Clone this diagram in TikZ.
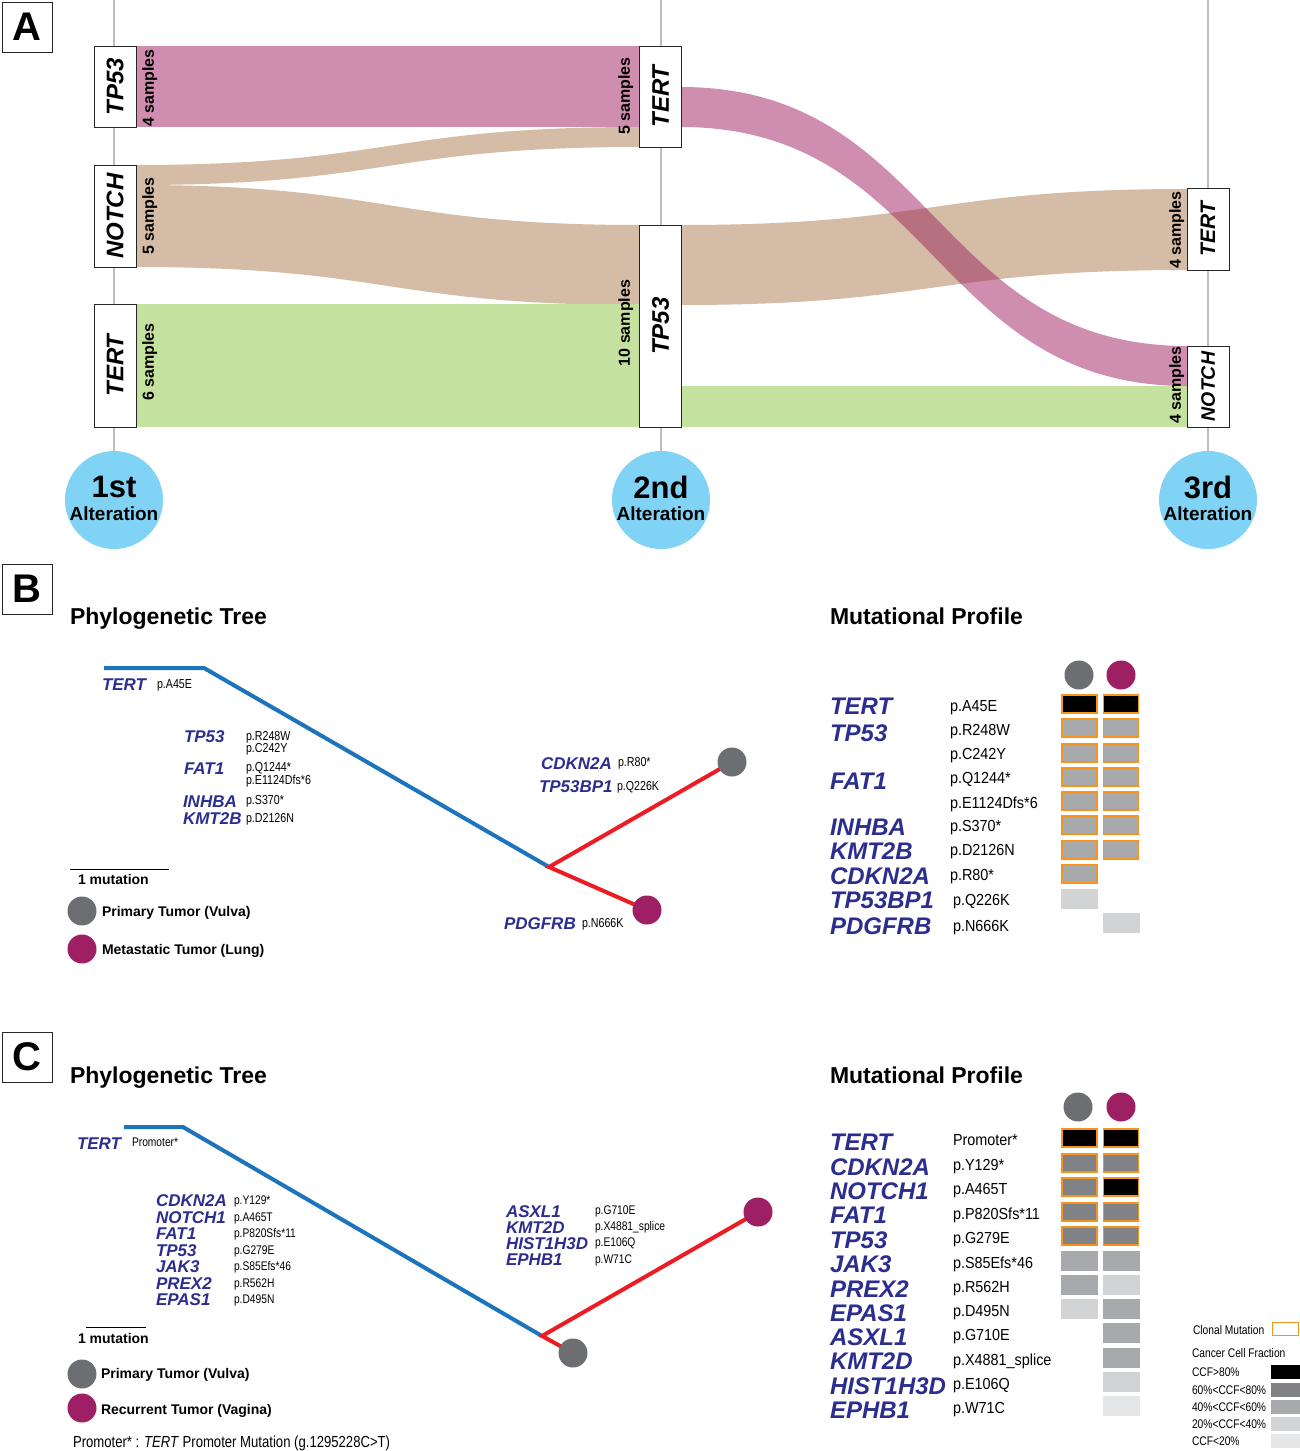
\documentclass[tikz,border=0pt]{standalone}
\usepackage{fontspec}
\setmainfont{Liberation Sans}
\newfontfamily\narrowfont[FakeStretch=0.82]{Liberation Sans}
\newfontfamily\medfont[FakeStretch=0.9]{Liberation Sans}
\definecolor{gblue}{RGB}{43,46,142}
\definecolor{tblue}{RGB}{28,117,188}
\definecolor{tred}{RGB}{237,28,36}
\definecolor{cgrey}{RGB}{109,110,113}
\definecolor{cpurple}{RGB}{158,31,99}
\definecolor{orng}{RGB}{247,148,29}
\definecolor{ccfa}{RGB}{0,0,0}
\definecolor{ccfb}{RGB}{128,130,133}
\definecolor{ccfc}{RGB}{167,169,172}
\definecolor{ccfd}{RGB}{209,211,212}
\definecolor{ccfe}{RGB}{230,231,232}
\definecolor{skyb}{RGB}{129,211,245}
\definecolor{axisg}{RGB}{190,190,190}
\definecolor{fpink}{RGB}{207,141,176}
\definecolor{fover}{RGB}{182,112,128}
\definecolor{ftan}{RGB}{212,188,166}
\definecolor{fgreen}{RGB}{197,225,160}
\tikzset{
  every node/.style={inner sep=0pt,outer sep=0pt,text depth=0pt},
  axisline/.style={draw=axisg,line width=1.5pt},
  altcirc/.style={circle,fill=skyb,minimum size=98pt},
  altbig/.style={font=\bfseries\fontsize{31}{31}\selectfont},
  altsmall/.style={font=\bfseries\fontsize{19}{19}\selectfont},
  sbox/.style={draw=black!85,fill=white,line width=1pt,rotate=90,minimum height=42pt,
    font=\bfseries\itshape\fontsize{24}{24}\selectfont},
  sboxs/.style={sbox,font=\bfseries\itshape\fontsize{21}{21}\selectfont},
  slab/.style={rotate=90,font=\bfseries\fontsize{16}{16}\selectfont},
  pink/.style={fill=fpink},
  tan/.style={fill=ftan},
  green/.style={fill=fgreen},
  letterbox/.style={draw=black!85,line width=1pt,minimum size=50pt,font=\bfseries\fontsize{40}{40}\selectfont},
  ttl/.style={font=\bfseries\fontsize{23}{23}\selectfont,text height=16.5pt,anchor=west},
  gtree/.style={font=\bfseries\itshape\fontsize{17}{17}\selectfont,text=gblue,text height=12.2pt,anchor=west},
  gprof/.style={font=\bfseries\itshape\fontsize{24}{24}\selectfont,text=gblue,text height=17.2pt,anchor=west},
  mtree/.style={font=\narrowfont\fontsize{13}{13}\selectfont,text height=9.3pt,anchor=west},
  mtreec/.style={font=\narrowfont\fontsize{12.5}{12.5}\selectfont,text height=9pt,anchor=west},
  mprof/.style={font=\medfont\fontsize{16}{16}\selectfont,text height=11.5pt,anchor=west},
  leg/.style={font=\bfseries\fontsize{14}{14}\selectfont,text height=10pt,anchor=west},
  rleg/.style={font=\narrowfont\fontsize{12.5}{12.5}\selectfont,text height=9pt,anchor=west},
  note/.style={font=\narrowfont\fontsize{16}{16}\selectfont,text height=11.5pt,anchor=west},
  tbl/.style={draw=tblue,line width=4pt,line join=round},
  trd/.style={draw=tred,line width=4pt,line join=miter},
  dot/.style={circle,minimum size=29pt},
  cellc/.style={minimum width=35pt,minimum height=18pt,draw=orng,line width=1.8pt,fill=#1},
  celln/.style={minimum width=37pt,minimum height=20pt,fill=#1},
  legrect/.style={minimum width=29pt,minimum height=14pt,fill=#1},
}
\begin{document}
\begin{tikzpicture}[x=1pt,y=-1pt]
\useasboundingbox (0,0) rectangle (1300,1451);
\fill[white] (0,0) rectangle (1300,1451);

% ================= Panel A =================
\node[letterbox] (pA) at (27,27) {A};
\node[altcirc] (alt1) at (114,500) {};
\node[altcirc] (alt2) at (661,500) {};
\node[altcirc] (alt3) at (1208,500) {};
\coordinate (top1) at (114,0);
\coordinate (top2) at (661,0);
\coordinate (top3) at (1208,0);
\draw[axisline] (top1) -- (alt1.north);
\draw[axisline] (top2) -- (alt2.north);
\draw[axisline] (top3) -- (alt3.north);

% flows
\fill[tan] (136,165) .. controls (388,165) and (388,127) .. (640,127) -- (640,147) .. controls (388,147) and (388,185) .. (136,185) -- cycle;
\fill[tan] (136,185) .. controls (388,185) and (388,225) .. (640,225) -- (640,305) .. controls (388,305) and (388,267) .. (136,267) -- cycle;
\fill[green] (136,304) rectangle (640,427);
\fill[tan] (681,225) .. controls (934,225) and (934,189) .. (1187,189) -- (1187,270) .. controls (934,270) and (934,305) .. (681,305) -- cycle;
\fill[green] (681,386) rectangle (1187,427);
\fill[pink] (136,46) rectangle (640,127);
\fill[pink] (681,87) .. controls (934,87) and (934,346) .. (1187,346) -- (1187,386) .. controls (934,386) and (934,127) .. (681,127) -- cycle;
\begin{scope}
\clip (681,225) .. controls (934,225) and (934,189) .. (1187,189) -- (1187,270) .. controls (934,270) and (934,305) .. (681,305) -- cycle;
\fill[fover] (681,87) .. controls (934,87) and (934,346) .. (1187,346) -- (1187,386) .. controls (934,386) and (934,127) .. (681,127) -- cycle;
\end{scope}

% boxes column 1
\node[sbox,minimum width=81pt] (c1tp53) at (115,86.5) {TP53};
\node[sbox,minimum width=102pt] (c1notch) at (115,216) {NOTCH};
\node[sbox,minimum width=123pt] (c1tert) at (115,365.5) {TERT};
% column 2
\node[sbox,minimum width=101pt] (c2tert) at (660.5,96.5) {TERT};
\node[sbox,minimum width=202pt] (c2tp53) at (660.5,326) {TP53};
% column 3
\node[sboxs,minimum width=82pt] (c3tert) at (1208,229) {TERT};
\node[sboxs,minimum width=81pt,font=\bfseries\itshape\fontsize{19.5}{19.5}\selectfont] (c3notch) at (1208,386.5) {NOTCH};

% sample labels
\node[slab] (s1a) at (148,88) {4 samples};
\node[slab] (s1b) at (148,216) {5 samples};
\node[slab] (s1c) at (148,362) {6 samples};
\node[slab] (s2a) at (624,96) {5 samples};
\node[slab] (s2b) at (624,323) {10 samples};
\node[slab] (s3a) at (1175,230) {4 samples};
\node[slab] (s3b) at (1175,385) {4 samples};

% circle labels
\node[altbig] (a1t) at (114,487) {1st};
\node[altsmall] (a1b) at (114,514) {Alteration};
\node[altbig] (a2t) at (661,487) {2nd};
\node[altsmall] (a2b) at (661,514) {Alteration};
\node[altbig] (a3t) at (1208,487) {3rd};
\node[altsmall] (a3b) at (1208,514) {Alteration};

% ================= Panel B =================
\node[letterbox] (pB) at (27,589) {B};
\node[ttl] (bT1) at (70,616) {Phylogenetic Tree};
\node[ttl] (bT2) at (830,616) {Mutational Profile};

\coordinate (bS) at (104,668);
\coordinate (bK) at (204,668);
\coordinate (bJ) at (549,867);
\coordinate (bP) at (732,762);
\coordinate (bM) at (647,910);
\draw[tbl] (bS) -- (bK) -- (bJ);
\draw[trd] (bP) -- (bJ) -- (bM);
\node[dot,fill=cgrey] (bPd) at (bP) {};
\node[dot,fill=cpurple] (bMd) at (bM) {};

\node[gtree] (bg1) at (102,684) {TERT};
\node[mtree] (bm1) at (157,684) {p.A45E};
\node[gtree] (bg2) at (184,736) {TP53};
\node[mtree] (bm2) at (246,736) {p.R248W};
\node[mtree] (bm3) at (246,748) {p.C242Y};
\node[gtree] (bg3) at (184,768) {FAT1};
\node[mtree] (bm4) at (246,767) {p.Q1244*};
\node[mtree] (bm5) at (246,780) {p.E1124Dfs*6};
\node[gtree] (bg4) at (183,801) {INHBA};
\node[mtree] (bm6) at (246,800) {p.S370*};
\node[gtree] (bg5) at (183,818) {KMT2B};
\node[mtree] (bm7) at (246,818) {p.D2126N};
\node[gtree] (bg6) at (541,763) {CDKN2A};
\node[mtree] (bm8) at (618,762) {p.R80*};
\node[gtree] (bg7) at (539,786) {TP53BP1};
\node[mtree] (bm9) at (617,786) {p.Q226K};
\node[gtree] (bg8) at (504,923) {PDGFRB};
\node[mtree] (bm10) at (582,923) {p.N666K};

% legend B
\coordinate (bL1) at (70,869);
\coordinate (bL2) at (169,869);
\draw[line width=0.8pt] (bL1) -- (bL2);
\node[leg] (bl1) at (78,879) {1 mutation};
\node[dot,fill=cgrey] (bld1) at (82,911) {};
\node[leg] (bl2) at (102,911) {Primary Tumor (Vulva)};
\node[dot,fill=cpurple] (bld2) at (82,949) {};
\node[leg] (bl3) at (102,949) {Metastatic Tumor (Lung)};

% profile B
\node[dot,fill=cgrey] (bpc1) at (1079,675) {};
\node[dot,fill=cpurple] (bpc2) at (1121,675) {};
\node[gprof] (bpg1) at (830,706) {TERT};
\node[gprof] (bpg2) at (830,733) {TP53};
\node[gprof] (bpg3) at (830,781) {FAT1};
\node[gprof] (bpg4) at (830,827) {INHBA};
\node[gprof] (bpg5) at (830,851) {KMT2B};
\node[gprof] (bpg6) at (830,876) {CDKN2A};
\node[gprof] (bpg7) at (830,900) {TP53BP1};
\node[gprof] (bpg8) at (830,926) {PDGFRB};
\node[mprof] (bpm1) at (950,706) {p.A45E};
\node[mprof] (bpm2) at (950,730) {p.R248W};
\node[mprof] (bpm3) at (950,754) {p.C242Y};
\node[mprof] (bpm4) at (950,778) {p.Q1244*};
\node[mprof] (bpm5) at (950,803) {p.E1124Dfs*6};
\node[mprof] (bpm6) at (950,826) {p.S370*};
\node[mprof] (bpm7) at (950,850) {p.D2126N};
\node[mprof] (bpm8) at (950,875) {p.R80*};
\node[mprof] (bpm9) at (953,900) {p.Q226K};
\node[mprof] (bpm10) at (953,926) {p.N666K};

\node[cellc=ccfa] (bc1a) at (1079.5,704) {};
\node[cellc=ccfa] (bc1b) at (1121,704) {};
\node[cellc=ccfc] (bc2a) at (1079.5,728) {};
\node[cellc=ccfc] (bc2b) at (1121,728) {};
\node[cellc=ccfc] (bc3a) at (1079.5,753) {};
\node[cellc=ccfc] (bc3b) at (1121,753) {};
\node[cellc=ccfc] (bc4a) at (1079.5,777) {};
\node[cellc=ccfc] (bc4b) at (1121,777) {};
\node[cellc=ccfc] (bc5a) at (1079.5,801) {};
\node[cellc=ccfc] (bc5b) at (1121,801) {};
\node[cellc=ccfc] (bc6a) at (1079.5,825) {};
\node[cellc=ccfc] (bc6b) at (1121,825) {};
\node[cellc=ccfc] (bc7a) at (1079.5,850) {};
\node[cellc=ccfc] (bc7b) at (1121,850) {};
\node[cellc=ccfc] (bc8a) at (1079.5,874) {};
\node[celln=ccfd] (bc9a) at (1079.5,898.5) {};
\node[celln=ccfd] (bc10b) at (1121,923) {};

% ================= Panel C =================
\node[letterbox] (pC) at (27,1057) {C};
\node[ttl] (cT1) at (70,1075) {Phylogenetic Tree};
\node[ttl] (cT2) at (830,1075) {Mutational Profile};

\coordinate (cS) at (124,1127);
\coordinate (cK) at (183,1127);
\coordinate (cJ) at (542,1336);
\coordinate (cP) at (573,1353);
\coordinate (cM) at (758,1212);
\draw[tbl] (cS) -- (cK) -- (cJ);
\draw[trd] (cM) -- (cJ) -- (cP);
\node[dot,fill=cgrey] (cPd) at (cP) {};
\node[dot,fill=cpurple] (cMd) at (cM) {};

\node[gtree] (cg1) at (77,1143) {TERT};
\node[mtreec] (cm1) at (132,1142) {Promoter*};
\node[gtree] (cg2) at (156,1200) {CDKN2A};
\node[gtree] (cg3) at (156,1217) {NOTCH1};
\node[gtree] (cg4) at (156,1233) {FAT1};
\node[gtree] (cg5) at (156,1250) {TP53};
\node[gtree] (cg6) at (156,1266) {JAK3};
\node[gtree] (cg7) at (156,1283) {PREX2};
\node[gtree] (cg8) at (156,1299) {EPAS1};
\node[mtreec] (cm2) at (234,1200) {p.Y129*};
\node[mtreec] (cm3) at (234,1217) {p.A465T};
\node[mtreec] (cm4) at (234,1233) {p.P820Sfs*11};
\node[mtreec] (cm5) at (234,1250) {p.G279E};
\node[mtreec] (cm6) at (234,1266) {p.S85Efs*46};
\node[mtreec] (cm7) at (234,1283) {p.R562H};
\node[mtreec] (cm8) at (234,1299) {p.D495N};
\node[gtree] (cg9) at (506,1211) {ASXL1};
\node[gtree] (cg10) at (506,1227) {KMT2D};
\node[gtree] (cg11) at (506,1243) {HIST1H3D};
\node[gtree] (cg12) at (506,1259) {EPHB1};
\node[mtreec] (cm9) at (595,1210) {p.G710E};
\node[mtreec] (cm10) at (595,1226) {p.X4881\_splice};
\node[mtreec] (cm11) at (595,1242) {p.E106Q};
\node[mtreec] (cm12) at (595,1259) {p.W71C};

% legend C
\coordinate (cL1) at (86,1327);
\coordinate (cL2) at (146,1327);
\draw[line width=0.8pt] (cL1) -- (cL2);
\node[leg] (cl1) at (78,1338) {1 mutation};
\node[dot,fill=cgrey] (cld1) at (82,1374) {};
\node[leg] (cl2) at (101,1373) {Primary Tumor (Vulva)};
\node[dot,fill=cpurple] (cld2) at (82,1408) {};
\node[leg] (cl3) at (101,1409) {Recurrent Tumor (Vagina)};
\node[note] (cnote) at (73,1442) {Promoter* : \textit{TERT} Promoter Mutation (g.1295228C>T)};

% profile C
\node[dot,fill=cgrey] (cpc1) at (1078,1107) {};
\node[dot,fill=cpurple] (cpc2) at (1121,1107) {};
\node[gprof] (cpg1) at (830,1142) {TERT};
\node[gprof] (cpg2) at (830,1167) {CDKN2A};
\node[gprof] (cpg3) at (830,1191) {NOTCH1};
\node[gprof] (cpg4) at (830,1215) {FAT1};
\node[gprof] (cpg5) at (830,1240) {TP53};
\node[gprof] (cpg6) at (830,1264) {JAK3};
\node[gprof] (cpg7) at (830,1289) {PREX2};
\node[gprof] (cpg8) at (830,1313) {EPAS1};
\node[gprof] (cpg9) at (830,1337) {ASXL1};
\node[gprof] (cpg10) at (830,1361) {KMT2D};
\node[gprof] (cpg11) at (830,1386) {HIST1H3D};
\node[gprof] (cpg12) at (830,1410) {EPHB1};
\node[mprof] (cpm1) at (953,1140) {Promoter*};
\node[mprof] (cpm2) at (953,1165) {p.Y129*};
\node[mprof] (cpm3) at (953,1189) {p.A465T};
\node[mprof] (cpm4) at (953,1214) {p.P820Sfs*11};
\node[mprof] (cpm5) at (953,1238) {p.G279E};
\node[mprof] (cpm6) at (953,1263) {p.S85Efs*46};
\node[mprof] (cpm7) at (953,1287) {p.R562H};
\node[mprof] (cpm8) at (953,1311) {p.D495N};
\node[mprof] (cpm9) at (953,1335) {p.G710E};
\node[mprof] (cpm10) at (953,1360) {p.X4881\_splice};
\node[mprof] (cpm11) at (953,1384) {p.E106Q};
\node[mprof] (cpm12) at (953,1408) {p.W71C};

\node[cellc=ccfa] (cc1a) at (1079.5,1138) {};
\node[cellc=ccfa] (cc1b) at (1121,1138) {};
\node[cellc=ccfb] (cc2a) at (1079.5,1163) {};
\node[cellc=ccfb] (cc2b) at (1121,1163) {};
\node[cellc=ccfb] (cc3a) at (1079.5,1187) {};
\node[cellc=ccfa] (cc3b) at (1121,1187) {};
\node[cellc=ccfb] (cc4a) at (1079.5,1212) {};
\node[cellc=ccfb] (cc4b) at (1121,1212) {};
\node[cellc=ccfb] (cc5a) at (1079.5,1236) {};
\node[cellc=ccfb] (cc5b) at (1121,1236) {};
\node[celln=ccfc] (cc6a) at (1079.5,1261) {};
\node[celln=ccfc] (cc6b) at (1121,1261) {};
\node[celln=ccfc] (cc7a) at (1079.5,1285) {};
\node[celln=ccfd] (cc7b) at (1121,1285) {};
\node[celln=ccfd] (cc8a) at (1079.5,1309) {};
\node[celln=ccfc] (cc8b) at (1121,1309) {};
\node[celln=ccfc] (cc9b) at (1121,1333) {};
\node[celln=ccfc] (cc10b) at (1121,1358) {};
\node[celln=ccfd] (cc11b) at (1121,1382) {};
\node[celln=ccfe] (cc12b) at (1121,1406) {};

% right legend
\node[rleg] (rl1) at (1193,1330) {Clonal Mutation};
\node[draw=orng,line width=1.5pt,minimum width=26pt,minimum height=13pt] (rlb1) at (1285.5,1329) {};
\node[rleg] (rl2) at (1192,1353) {Cancer Cell Fraction};
\node[rleg] (rl3) at (1192,1372) {CCF>80\%};
\node[legrect=ccfa] (rlr3) at (1285.5,1372) {};
\node[rleg] (rl4) at (1192,1390) {60\%<CCF<80\%};
\node[legrect=ccfb] (rlr4) at (1285.5,1390) {};
\node[rleg] (rl5) at (1192,1407) {40\%<CCF<60\%};
\node[legrect=ccfc] (rlr5) at (1285.5,1407) {};
\node[rleg] (rl6) at (1192,1424) {20\%<CCF<40\%};
\node[legrect=ccfd] (rlr6) at (1285.5,1424) {};
\node[rleg] (rl7) at (1192,1441) {CCF<20\%};
\node[legrect=ccfe] (rlr7) at (1285.5,1441) {};
\end{tikzpicture}
\end{document}
